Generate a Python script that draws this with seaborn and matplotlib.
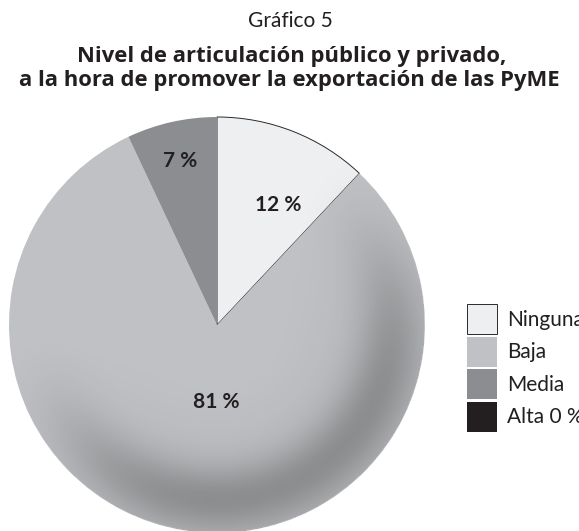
import numpy as np
import matplotlib
matplotlib.use("Agg")
import matplotlib.pyplot as plt
import seaborn as sns
from matplotlib.patches import Circle

# ---- data ----
categories = ["Ninguna", "Baja", "Media", "Alta"]
values = [12, 81, 7, 0]
legend_labels = ["Ninguna", "Baja", "Media", "Alta 0 %"]
colors = ["#eeeff0", "#c0c1c4", "#8c8d90", "#231f20"]
title_text = "Gráfico 5"
subtitle_lines = ["Nivel de articulación público y privado,",
                  "a la hora de promover la exportación de las PyME"]

sns.set_theme(style="white")
plt.rcParams["font.family"] = ["Lato", "DejaVu Sans"]

W, H = 579, 531
fig = plt.figure(figsize=(W / 100, H / 100), dpi=100)
ax = fig.add_axes([0, 0, 1, 1])
cx, cy, R = 217, H - 325, 208
txtc = "#231f20"

wedges, _ = ax.pie(values, colors=colors, startangle=90, counterclock=False,
                   center=(cx, cy), radius=R, wedgeprops=dict(linewidth=0))
wedges[0].set_edgecolor("#2a2a2a")
wedges[0].set_linewidth(0.7)
ax.set_xlim(0, W)
ax.set_ylim(0, H)
ax.set_aspect("equal")
ax.axis("off")

# shading overlay (spherical look)
n = 400
xs = np.linspace(cx - R, cx + R, n)
ys = np.linspace(cy - R, cy + R, n)
X, Y = np.meshgrid(xs, ys)
u = (X - cx) / R
v = (Y - cy) / R
r = np.sqrt(u ** 2 + v ** 2) + 1e-9
def smooth(a, b, t):
    s = np.clip((t - a) / (b - a), 0, 1)
    return s * s * (3 - 2 * s)
direc = smooth(-0.5, 0.9, (u * 0.5 - v * 0.87) / r)
ring = np.exp(-((r - 0.84) / 0.16) ** 2)
alpha = 0.22 * ring * direc + 0.05 * smooth(0.2, 0.9, r) * direc
alpha = np.where(r <= 1.0, alpha, 0)
rgba = np.zeros((n, n, 4))
rgba[..., 3] = alpha
im = ax.imshow(rgba, extent=(cx - R, cx + R, cy - R, cy + R), origin="lower",
               zorder=3, interpolation="bilinear")
clip = Circle((cx, cy), R, transform=ax.transData)
im.set_clip_path(clip)
ax.set_xlim(0, W)
ax.set_ylim(0, H)

# percentage labels
label_place = [(0.65, -5.4), (0.37, 8.3), (0.81, 0.0)]
for w, val, (frac, shift) in zip(wedges, values, label_place):
    if val == 0:
        continue
    ang = np.deg2rad((w.theta1 + w.theta2) / 2 + shift)
    ax.text(cx + frac * R * np.cos(ang), cy + frac * R * np.sin(ang), f"{val} %",
            ha="center", va="center", fontsize=15, fontweight="bold",
            color=txtc, zorder=5)

# titles
fig.text(290 / W, 1 - 27 / H, title_text, ha="center", va="baseline",
         fontsize=15, fontweight="normal", color=txtc)
fig.text(292 / W, 1 - 62 / H, subtitle_lines[0], ha="center", va="baseline",
         fontsize=15.8, fontweight="bold", color=txtc, family=["Open Sans", "DejaVu Sans"])
fig.text(289 / W, 1 - 86 / H, subtitle_lines[1], ha="center", va="baseline",
         fontsize=15.8, fontweight="bold", color=txtc, family=["Open Sans", "DejaVu Sans"])

# legend
fs = 15
px = fs * 100 / 72
hh = (30 / px - 0.245) / 0.65
leg = fig.legend(wedges, legend_labels, loc="upper left",
                 bbox_to_anchor=(467 / W, 1 - 304 / H), frameon=False,
                 fontsize=fs, borderpad=0, borderaxespad=0,
                 handlelength=30 / px, handleheight=hh,
                 labelspacing=2.5 / px, handletextpad=10 / px, labelcolor=txtc)

fig.savefig("out.png", dpi=100)
